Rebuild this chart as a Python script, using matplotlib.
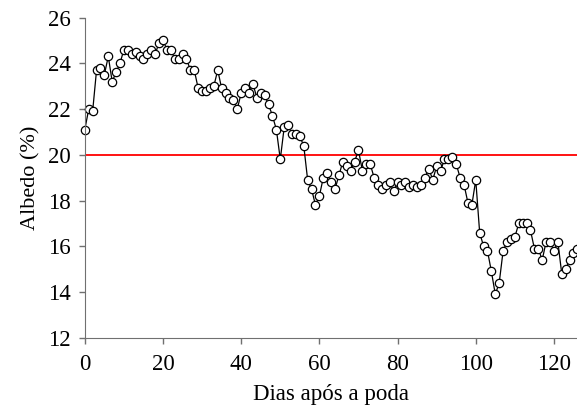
import numpy as np
import matplotlib
matplotlib.use("Agg")
import matplotlib.pyplot as plt

# Albedo, one reading per day after pruning
DAYS = np.arange(0, 127)
ALBEDO = [
    21.1, 22.0, 21.9, 23.7, 23.8, 23.5, 24.3, 23.2, 23.6, 24.0,
    24.6, 24.6, 24.4, 24.5, 24.3, 24.2, 24.4, 24.6, 24.4, 24.9,
    25.0, 24.6, 24.6, 24.2, 24.2, 24.4, 24.2, 23.7, 23.7, 22.9,
    22.8, 22.8, 22.9, 23.0, 23.7, 22.9, 22.7, 22.5, 22.4, 22.0,
    22.7, 22.9, 22.7, 23.1, 22.5, 22.7, 22.6, 22.2, 21.7, 21.1,
    19.8, 21.2, 21.3, 20.9, 20.9, 20.8, 20.4, 18.9, 18.5, 17.8,
    18.2, 19.0, 19.2, 18.8, 18.5, 19.1, 19.7, 19.5, 19.3, 19.7,
    20.2, 19.3, 19.6, 19.6, 19.0, 18.7, 18.5, 18.7, 18.8, 18.4,
    18.8, 18.7, 18.8, 18.6, 18.7, 18.6, 18.7, 19.0, 19.4, 18.9,
    19.5, 19.3, 19.8, 19.8, 19.9, 19.6, 19.0, 18.7, 17.9, 17.8,
    18.9, 16.6, 16.0, 15.8, 14.9, 13.9, 14.4, 15.8, 16.2, 16.3,
    16.4, 17.0, 17.0, 17.0, 16.7, 15.9, 15.9, 15.4, 16.2, 16.2,
    15.8, 16.2, 14.8, 15.0, 15.4, 15.7, 15.9,
]
REFERENCE_LEVEL = 20

plt.rcParams['font.family'] = ['Liberation Serif', 'DejaVu Serif']

fig = plt.figure(figsize=(5.77, 4.07), dpi=100)
ax = fig.add_axes([0.147, 0.17, 0.853, 0.787])

ax.axhline(REFERENCE_LEVEL, color='red', lw=1.3, zorder=1)
ax.plot(DAYS, ALBEDO, color='black', lw=0.9, marker='o', markersize=6,
        markerfacecolor='white', markeredgecolor='black', markeredgewidth=0.9,
        zorder=2, clip_on=False)

ax.set_xlim(0, 125.9)
ax.set_ylim(12, 26)
ax.set_xticks(np.arange(0, 121, 20))
ax.set_yticks(np.arange(12, 27, 2))
ax.tick_params(direction='out', length=4, width=1, colors='#707070',
               labelcolor='black', labelsize=16.5)
ax.tick_params(axis='x', pad=8)
ax.tick_params(axis='y', pad=6)

ax.set_xlabel("Dias após a poda", fontsize=16.5, labelpad=6)
ax.set_ylabel("Albedo (%)", fontsize=16, labelpad=5.5)

# only the left and bottom frame lines
ax.spines['top'].set_visible(False)
ax.spines['right'].set_visible(False)
ax.spines['left'].set_color('#707070')
ax.spines['bottom'].set_color('#707070')

fig.savefig("out.png", dpi=100)
